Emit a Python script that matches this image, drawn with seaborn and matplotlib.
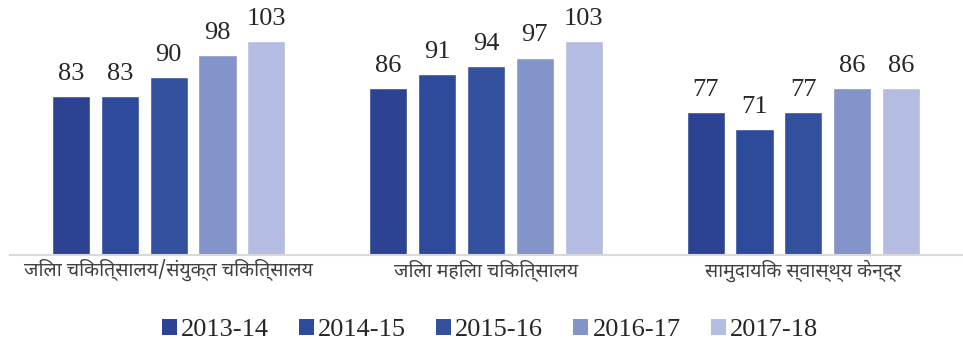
import matplotlib
matplotlib.use("Agg")
import matplotlib.pyplot as plt
import seaborn as sns
import pandas as pd
from matplotlib.patches import Patch

categories = ["जिला चिकित्सालय/संयुक्त चिकित्सालय", "जिला महिला चिकित्सालय", "सामुदायिक स्वास्थ्य केन्द्र"]
years = ["2013-14", "2014-15", "2015-16", "2016-17", "2017-18"]
values_2013_14 = [83, 86, 77]
values_2014_15 = [83, 91, 71]
values_2015_16 = [90, 94, 77]
values_2016_17 = [98, 97, 86]
values_2017_18 = [103, 103, 86]
colors = ["#2B4392", "#2D4A9B", "#33509F", "#8394CA", "#B4BCE1"]

series = [values_2013_14, values_2014_15, values_2015_16, values_2016_17, values_2017_18]
rows = []
for y, vals in zip(years, series):
    for c, v in zip(categories, vals):
        rows.append({"category": c, "year": y, "value": v})
df = pd.DataFrame(rows)

sns.set_theme(style="white")
serif = ["Liberation Serif", "DejaVu Serif"]
deva = ["Noto Sans Devanagari", "Noto Sans Devanagari UI", "DejaVu Sans"]

fig = plt.figure(figsize=(9.63, 3.49), dpi=100)
ax = fig.add_axes([10/963, (349-255)/349, 952/963, 255/349])

sns.barplot(data=df, x="category", y="value", hue="year", order=categories,
            hue_order=years, palette=colors, width=0.77, gap=0.22,
            ax=ax, legend=False, saturation=1)

ax.set_ylim(25, 118)
ax.set_xlim(-0.5, 2.5)
for cont in ax.containers:
    ax.bar_label(cont, padding=8, fontsize=19, family=serif, color="#262626")

ax.set_yticks([])
ax.set_xlabel("")
ax.set_ylabel("")
for s in ["top", "right", "left"]:
    ax.spines[s].set_visible(False)
ax.spines["bottom"].set_color("#D9D9D9")
ax.spines["bottom"].set_linewidth(1.5)
ax.tick_params(axis="x", length=0, pad=3)
for lbl in ax.get_xticklabels():
    lbl.set_fontfamily(deva)
    lbl.set_fontsize(14)
    lbl.set_color("#404040")

handles = [Patch(facecolor=c, edgecolor="none") for c in colors]
fig.legend(handles, years, loc="center", bbox_to_anchor=(490/963, 1 - 330/349),
           ncol=5, frameon=False, prop={"family": serif, "size": 19},
           handlelength=0.57, handleheight=0.57, handletextpad=0.15,
           columnspacing=1.14, labelcolor="#262626")

fig.savefig("out.png", dpi=100)
